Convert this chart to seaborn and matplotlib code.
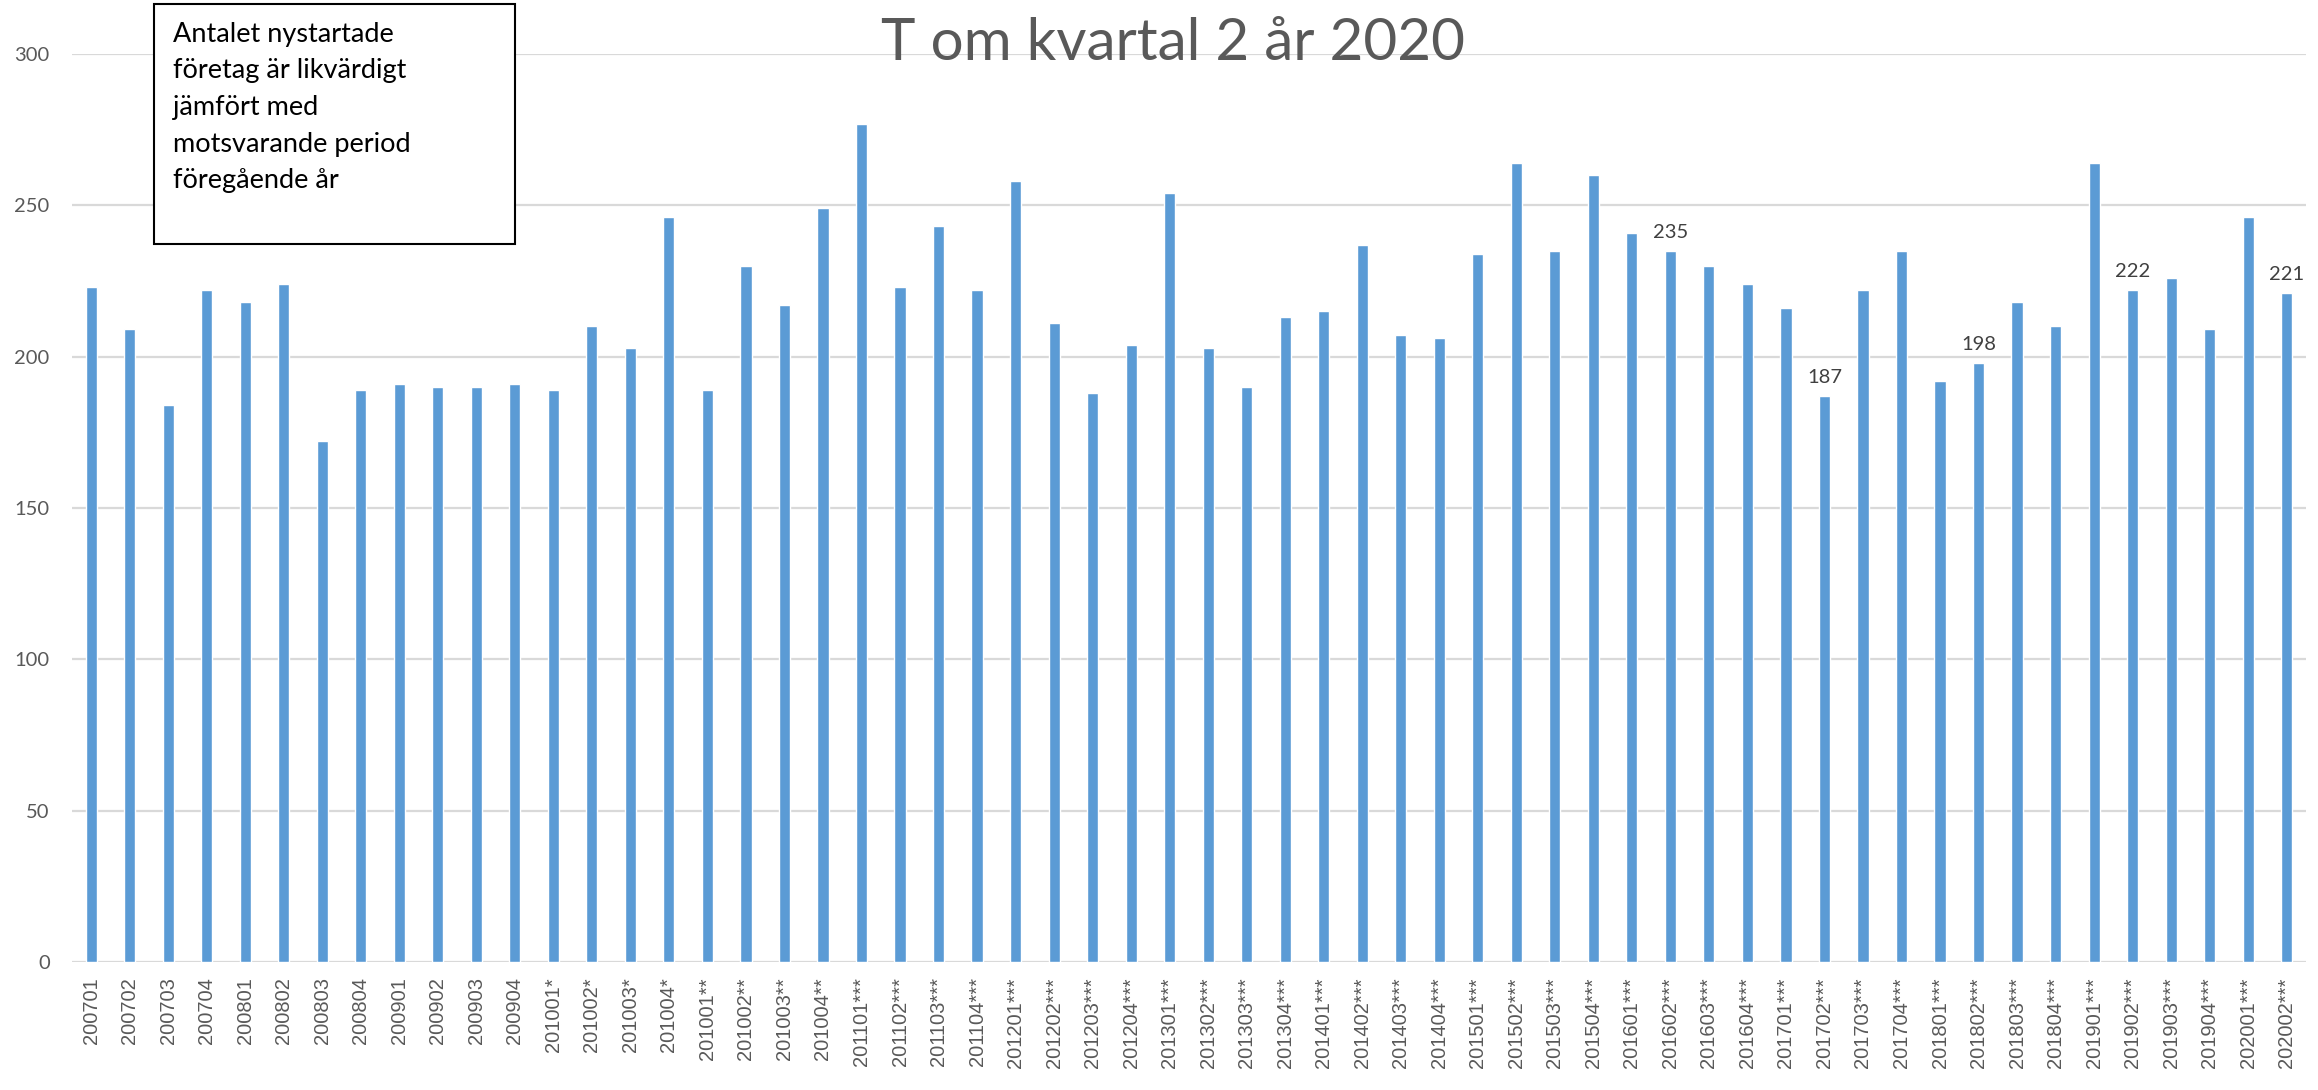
import numpy as np
import pandas as pd
import matplotlib
matplotlib.use("Agg")
import matplotlib.pyplot as plt
from matplotlib.patches import Rectangle
import seaborn as sns

# Data
periods = [
    "200701", "200702", "200703", "200704",
    "200801", "200802", "200803", "200804",
    "200901", "200902", "200903", "200904",
    "201001*", "201002*", "201003*", "201004*",
    "201001**", "201002**", "201003**", "201004**",
    "201101***", "201102***", "201103***", "201104***",
    "201201***", "201202***", "201203***", "201204***",
    "201301***", "201302***", "201303***", "201304***",
    "201401***", "201402***", "201403***", "201404***",
    "201501***", "201502***", "201503***", "201504***",
    "201601***", "201602***", "201603***", "201604***",
    "201701***", "201702***", "201703***", "201704***",
    "201801***", "201802***", "201803***", "201804***",
    "201901***", "201902***", "201903***", "201904***",
    "202001***", "202002***",
]
counts = [
    223, 209, 184, 222,
    218, 224, 172, 189,
    191, 190, 190, 191,
    189, 210, 203, 246,
    189, 230, 217, 249,
    277, 223, 243, 222,
    258, 211, 188, 204,
    254, 203, 190, 213,
    215, 237, 207, 206,
    234, 264, 235, 260,
    241, 235, 230, 224,
    216, 187, 222, 235,
    192, 198, 218, 210,
    264, 222, 226, 209,
    246, 221,
]
labelled = ["201602***", "201702***", "201802***", "201902***", "202002***"]

title = "T om kvartal 2 år 2020"
note = "Antalet nystartade\nföretag är likvärdigt\njämfört med\nmotsvarande period\nföregående år"

df = pd.DataFrame({"period": periods, "antal": counts})

sns.set_style("white")
plt.rcParams["font.family"] = ["Lato", "DejaVu Sans"]

grey = "#595959"
fig = plt.figure(figsize=(23.18, 10.90), dpi=100)
ax = fig.add_axes([0.031, 0.1174, 0.9638, 0.8331])

sns.barplot(data=df, x="period", y="antal", color="#5B9BD5", saturation=1,
            width=0.29, ax=ax, order=periods)

ax.set_ylim(0, 300)
ax.set_xlim(-0.5, len(periods) - 0.5)
ax.set_yticks(np.arange(0, 301, 50))
ax.yaxis.grid(True, color="#D9D9D9", linewidth=1.6)
ax.set_axisbelow(True)
for s in ax.spines.values():
    s.set_visible(False)
ax.set_xlabel("")
ax.set_ylabel("")
ax.tick_params(axis="y", length=0, pad=16, labelsize=14.5, labelcolor=grey)
ax.tick_params(axis="x", length=0, pad=11, labelsize=14.5, labelcolor=grey)
for lab in ax.get_xticklabels():
    lab.set_rotation(90)
    lab.set_fontfamily(["Liberation Sans", "DejaVu Sans"])

# value labels on a few bars
for i, p in enumerate(periods):
    if p in labelled:
        ax.annotate(str(counts[i]), (i, counts[i]), xytext=(0, 7),
                    textcoords="offset points", ha="center", va="bottom",
                    fontsize=14.5, color="#404040")

fig.text(0.506, 0.960, title, ha="center", va="center", fontsize=42, color=grey)

# text box in the upper left
fig.add_artist(Rectangle((0.0664, 0.7761), 0.1557, 0.2202, transform=fig.transFigure,
                         facecolor="white", edgecolor="black", linewidth=1.5))
fig.text(0.0746, 0.980, note, ha="left", va="top", fontsize=19.5, color="black",
         linespacing=1.58)

fig.savefig("out.png", dpi=100)
